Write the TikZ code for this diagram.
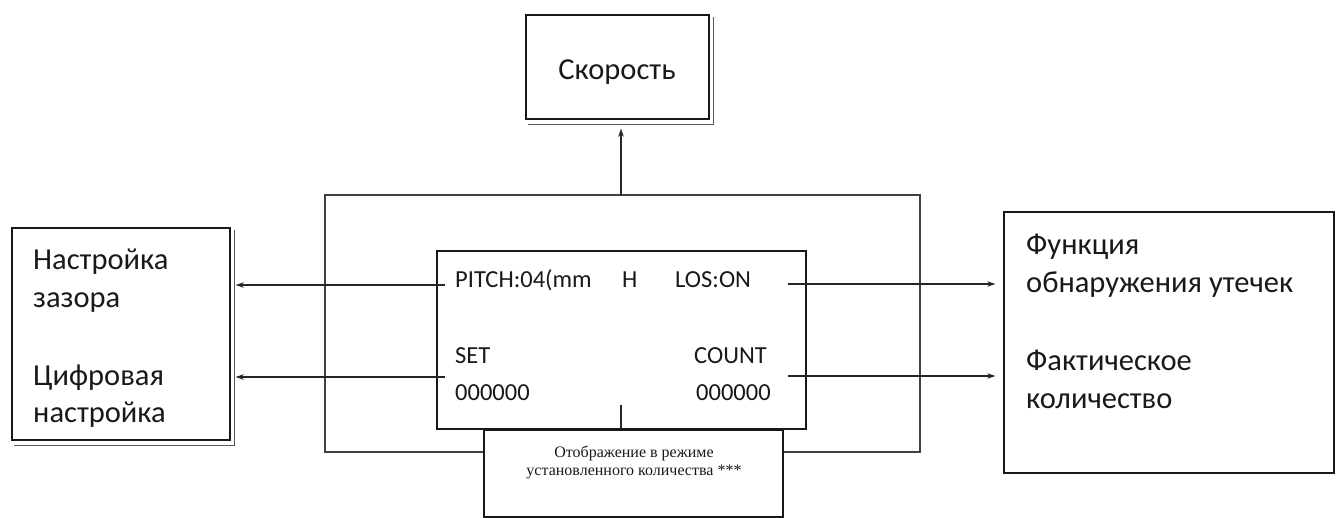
\documentclass[tikz,border=0pt]{standalone}
\usepackage{fontspec}
\setmainfont{Carlito}
\newfontfamily\rmru{Liberation Serif}
\usetikzlibrary{arrows.meta,calc}
\begin{document}
\begin{tikzpicture}[x=1pt,y=-1pt,
  box/.style={draw=black!90, line width=1.4pt, fill=white, inner sep=0pt},
  frame/.style={draw=black!75, line width=1.4pt, inner sep=0pt},
  big/.style={font=\fontsize{30.5}{36}\selectfont, text=black!90, inner sep=0pt},
  lcd/.style={font=\fontsize{24.5}{29}\selectfont, text=black!90, inner sep=0pt},
  note/.style={font=\rmru\fontsize{16}{18}\selectfont, text=black!90, inner sep=0pt},
  arr/.style={draw=black!85, line width=1.1pt, -{Stealth[length=8pt,width=5.5pt]}},
  shade/.style={draw=black!65, line width=1.2pt}]
\useasboundingbox (0,0) rectangle (1340,518);
\fill[white] (0,0) rectangle (1340,518);

% outer and inner frames
\node[frame, minimum width=595pt, minimum height=257pt] (outer) at (622.5,323.5) {};
\node[frame, draw=black!90, minimum width=369pt, minimum height=178pt] (inner) at (621.5,340) {};

% top box: speed
\node[box, minimum width=183pt, minimum height=104pt] (speed) at (617.5,67) {};
\draw[shade] ($(speed.north east)+(4,3)$) -- ($(speed.south east)+(4,5)$) -- ($(speed.south west)+(3,5)$);
\node[big, anchor=base] (speedt) at (617,80) {Скорость};

% left box
\node[box, minimum width=218pt, minimum height=212pt] (lbox) at (121,334) {};
\draw[shade] ($(lbox.north east)+(4,3)$) -- ($(lbox.south east)+(4,5)$) -- ($(lbox.south west)+(3,5)$);
\node[big, anchor=base west] (l1) at (33,270) {Настройка};
\node[big, anchor=base west] (l2) at (33,307.5) {зазора};
\node[big, anchor=base west] (l3) at (33,385) {Цифровая};
\node[big, anchor=base west] (l4) at (33,422.5) {настройка};

% right box
\node[box, minimum width=330pt, minimum height=261pt] (rbox) at (1169,342.5) {};
\node[big, anchor=base west] (r1) at (1026,255) {Функция};
\node[big, anchor=base west] (r2) at (1026,293) {обнаружения утечек};
\node[big, anchor=base west] (r3) at (1026,370) {Фактическое};
\node[big, anchor=base west] (r4) at (1026,408) {количество};

% display texts
\node[lcd, anchor=base west] (pitch) at (455,288) {PITCH:04(mm};
\node[lcd, anchor=base west] (hh) at (622,288) {H};
\node[lcd, anchor=base west] (los) at (675,288) {LOS:ON};
\node[lcd, anchor=base west] (set) at (455,363) {SET};
\node[lcd, anchor=base west] (cnt) at (694,363) {COUNT};
\node[lcd, anchor=base west] (setv) at (455,400) {000000};
\node[lcd, anchor=base west] (cntv) at (696,400) {000000};

% bottom note box
\node[box, line width=2pt, minimum width=299pt, minimum height=87pt] (nbox) at (633.5,473.5) {};
\node[note, anchor=base] (n1) at (634,457) {Отображение в режиме};
\node[note, anchor=base] (n2) at (634,475) {установленного количества ***};

% connectors
\coordinate (up) at (621,195);
\draw[arr, shorten >=9pt] (up) -- (up |- speed.south);

\coordinate (pl) at (445,285);
\draw[arr, shorten >=5pt] (pl) -- (lbox.east |- pl);
\coordinate (sl) at (445,377);
\draw[arr, shorten >=5pt] (sl) -- (lbox.east |- sl);

\coordinate (pr) at (788,284);
\draw[arr, shorten >=8pt] (pr) -- (rbox.west |- pr);
\coordinate (cr) at (788,376);
\draw[arr, shorten >=8pt] (cr) -- (rbox.west |- cr);

\coordinate (tk) at (621,405);
\draw[draw=black!85, line width=1.4pt] (tk) -- (tk |- nbox.north);
\end{tikzpicture}
\end{document}
